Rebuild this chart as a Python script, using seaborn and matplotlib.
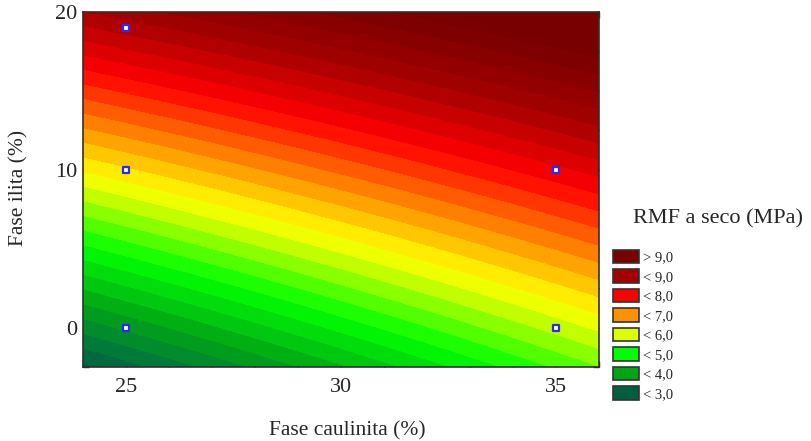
import numpy as np
import pandas as pd
import matplotlib
matplotlib.use("Agg")
import matplotlib.pyplot as plt
from matplotlib.colors import to_rgb, rgb_to_hsv, hsv_to_rgb
from matplotlib.patches import Patch
import seaborn as sns

# Experimental design points and measured dry flexural strength (MPa)
caulinita = [25, 25, 25, 35, 35]
ilita = [0, 10, 19, 0, 10]
rmf = [3.30, 5.95, 8.36, 5.35, 7.68]

# Legend classes (top to bottom) and their colours
legend_labels = ["> 9,0", "< 9,0", "< 8,0", "< 7,0", "< 6,0", "< 5,0", "< 4,0", "< 3,0"]
legend_colors = ["#780000", "#a50000", "#ff0000", "#ff9100",
                 "#dcff00", "#00ff00", "#00a514", "#006040"]
class_centres = [9.5, 8.5, 7.5, 6.5, 5.5, 4.5, 3.5, 2.5]

x_ticks = [25, 30, 35]
y_ticks = [0, 10, 20]

sns.set_style("ticks")
plt.rcParams["font.family"] = ["Liberation Serif", "DejaVu Serif"]

df = pd.DataFrame({"caulinita": caulinita, "ilita": ilita, "rmf": rmf})

# Response surface: b0 + b1*x + b2*y + b12*x*y + b22*y^2
def design(x, y):
    x = np.asarray(x, float)
    y = np.asarray(y, float)
    return np.stack([np.ones_like(x), x, y, x * y, y * y], axis=-1)

coef, *_ = np.linalg.lstsq(design(df.caulinita, df.ilita), df.rmf.values, rcond=None)

gx = np.linspace(24, 36, 400)
gy = np.linspace(-2.5, 20, 400)
GX, GY = np.meshgrid(gx, gy)
GZ = design(GX, GY) @ coef

# Fine contour bands; colours blended in HSV between the class colours
levels = np.arange(0.0, 14.01, 0.25)
mids = 0.5 * (levels[:-1] + levels[1:])
order = np.argsort(class_centres)
cc = np.array(class_centres)[order]
hsv = rgb_to_hsv(np.array([to_rgb(c) for c in legend_colors])[order])
band_colors = [tuple(hsv_to_rgb([np.interp(m, cc, hsv[:, k]) for k in range(3)]))
               for m in mids]

fig = plt.figure(figsize=(8.12, 4.41), dpi=100)
ax = fig.add_axes([83 / 812, 1 - 367 / 441, (599 - 83) / 812, (367 - 12) / 441])

ax.contourf(GX, GY, GZ, levels=levels, colors=band_colors, antialiased=False)

sns.scatterplot(data=df, x="caulinita", y="ilita", marker="s", s=18,
                color="white", edgecolor="#2a2aff", linewidth=1.6,
                ax=ax, zorder=5, legend=False)

ax.set_xlim(24, 36)
ax.set_ylim(-2.5, 20)
ax.set_xticks(x_ticks)
ax.set_xticks(np.arange(24, 37, 1), minor=True)
ax.set_yticks(y_ticks)
ax.set_yticks(np.arange(-2.5, 20.01, 2.5), minor=True)
ax.tick_params(which="both", direction="in", length=4, width=1,
               top=True, right=True, color="#202020")
ax.tick_params(axis="x", which="major", labelsize=16, pad=8)
ax.tick_params(axis="y", which="major", labelsize=16, pad=4)
ax.set_xlabel("")
ax.set_ylabel("")
for s in ax.spines.values():
    s.set_linewidth(1.2)
    s.set_color("#303030")

fig.text(347 / 812, 1 - 431 / 441, "Fase caulinita (%)", ha="center", va="center", fontsize=15.5)
fig.text(19 / 812, 1 - 188 / 441, "Fase ilita (%)", ha="center", va="center",
         rotation=90, fontsize=15.5)

fig.text(718 / 812, 1 - 219 / 441, "RMF a seco (MPa)", ha="center", va="center", fontsize=16)

handles = [Patch(facecolor=c, edgecolor="#333333", linewidth=1.2) for c in legend_colors]
fig.legend(handles, legend_labels, loc="upper left",
           bbox_to_anchor=(613 / 812, 1 - 250 / 441), frameon=False,
           fontsize=10.5, handlelength=1.78, handleheight=1.03,
           labelspacing=0.33, handletextpad=0.3, borderpad=0, borderaxespad=0)

fig.savefig("out.png", dpi=100)
